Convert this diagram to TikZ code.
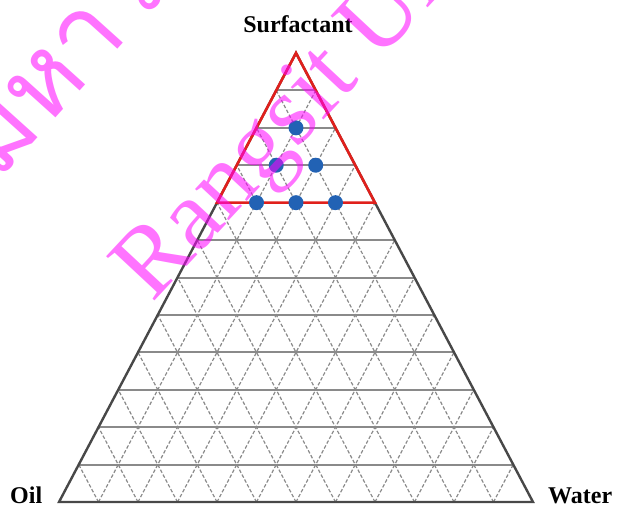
\documentclass[tikz,border=0pt]{standalone}
\usepackage{fontspec}
\setmainfont{Liberation Serif}
\newfontfamily\thaifont[Script=Thai]{Loma}
\usetikzlibrary{calc}
\definecolor{tdgrey}{HTML}{484848}
\definecolor{tdgrid}{HTML}{8A8A8A}
\definecolor{tdred}{HTML}{E0201C}
\definecolor{tdblue}{HTML}{2262B4}
\definecolor{tdmark}{HTML}{FF00FF}
\tikzset{
  triside/.style   = {draw=tdgrey, line width=2.4pt, line join=miter},
  hline/.style     = {draw=tdgrid, line width=2pt},
  dline/.style     = {draw=tdgrid, line width=1.2pt, dash pattern=on 3.5pt off 2pt},
  redzone/.style   = {draw=tdred, line width=2.6pt, line join=miter},
  sample/.style    = {circle, fill=tdblue, minimum size=15pt, inner sep=0pt},
  cornerlbl/.style = {font=\fontsize{24}{24}\selectfont\bfseries, inner sep=0pt},
  wmark/.style     = {text=tdmark, text opacity=0.55, inner sep=0pt,
                      font=\fontsize{100}{100}\selectfont},
}

\begin{document}
\begin{tikzpicture}[x=1pt, y=-1pt]

  \clip (0,0) rectangle (618,513);
  \useasboundingbox (0,0) rectangle (618,513);

  % ---------- corners -----------------------------------------------------
  \coordinate (oil)   at (59,502);
  \coordinate (water) at (533,502);
  \coordinate (surf)  at (296,53);

  % ---------- grid --------------------------------------------------------
  \foreach \k in {1,...,11}{
    \draw[hline] ($(oil)!\k/12!(surf)$) -- ($(water)!\k/12!(surf)$);
    \draw[dline] ($(oil)!\k/12!(water)$) -- ($(oil)!\k/12!(surf)$);
    \draw[dline] ($(oil)!\k/12!(water)$) -- ($(water)!{1-\k/12}!(surf)$);
  }

  \draw[triside] (oil) -- (water) -- (surf) -- cycle;
  \draw[redzone] (surf) -- ($(oil)!8/12!(surf)$) -- ($(water)!8/12!(surf)$) -- cycle;

  % ---------- samples -----------------------------------------------------
  \foreach \i/\j [count=\n] in {1/10, 1/9, 2/9, 1/8, 2/8, 3/8}{
    \pgfmathtruncatemacro{\o}{12-\i-\j}
    \node[sample] (s\n) at (barycentric cs:oil=\o,water=\i,surf=\j) {};
  }

  % ---------- labels ------------------------------------------------------
  \node[cornerlbl, anchor=base]      (surfLbl)  at (298,33)  {Surfactant};
  \node[cornerlbl, anchor=base west] (oilLbl)   at (10,503)  {Oil};
  \node[cornerlbl, anchor=base west] (waterLbl) at (548,503) {Water};

  % ---------- watermark ---------------------------------------------------
  \node[wmark, rotate=47, anchor=base west] (wmEn) at (152,304) {Rangsit University};
  \node[wmark, rotate=48, anchor=base west, font=\fontsize{105}{105}\selectfont\thaifont]
       (wmTh) at (-2,182) {มหาวิทยาลัยรังสิต};

\end{tikzpicture}
\end{document}
